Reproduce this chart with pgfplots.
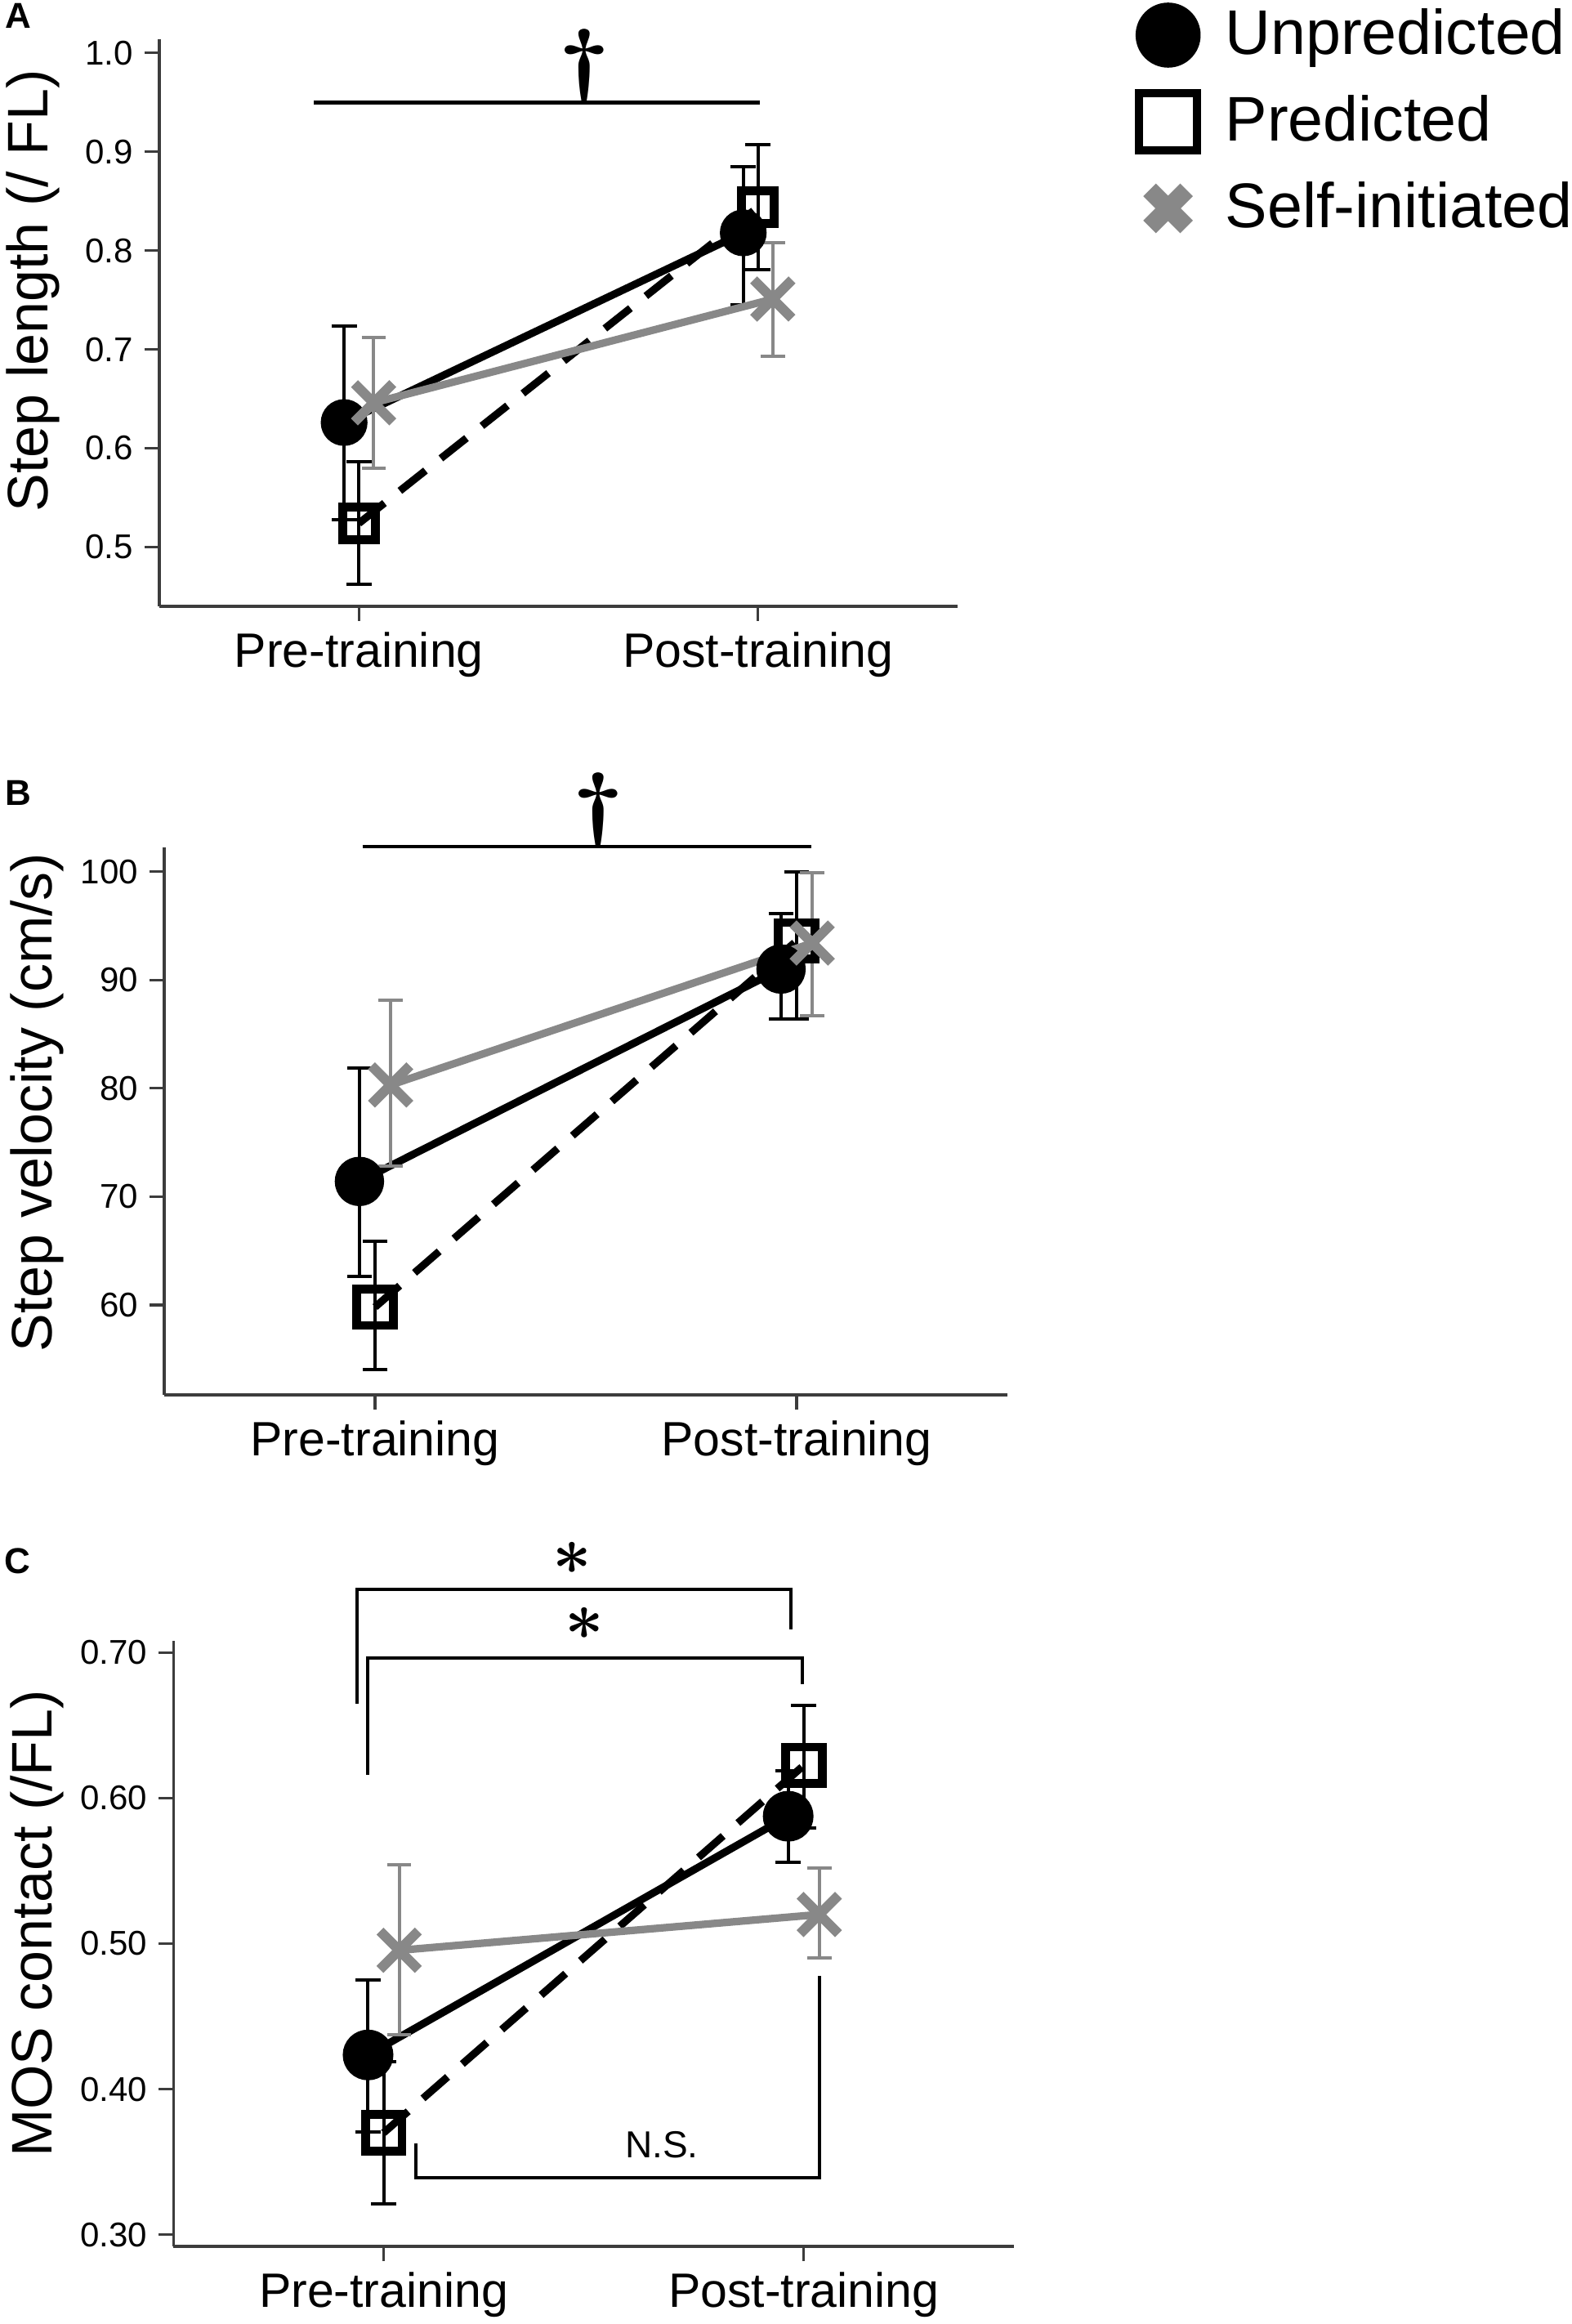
\documentclass[border=0pt]{standalone}
\usepackage{pgfplots}
\pgfplotsset{compat=1.18}
\usepackage{fontspec}
\setmainfont{Liberation Sans}
\definecolor{sgray}{RGB}{136,136,136}
\definecolor{axgray}{RGB}{60,60,60}
\pgfplotsset{
  panel/.style={
    scale only axis,
    axis x line*=bottom, axis y line*=left,
    axis line style={line width=0.8pt, axgray},
    xmin=0.5, xmax=2.5,
    xtick={1,2}, xticklabels={Pre-training,Post-training},
    tick align=outside, major tick length=4.5pt,
    tick style={line width=0.8pt, axgray},
    xticklabel style={font=\fontsize{14.75}{16}\selectfont},
    yticklabel style={font=\fontsize{10.5}{12}\selectfont},
    /pgf/number format/assume math mode=true,
    clip=false,
  },
  unp/.style={black, line width=2.3pt, mark=*, mark size=#1, mark options={solid},
    forget plot,
    error bars/.cd, y dir=both, y explicit,
    error bar style={line width=1pt, black, solid},
    error mark options={rotate=90, line width=1pt, black, mark size=3.85pt, solid}},
  pred/.style={black, line width=2.3pt, dash pattern=on 10pt off 6pt, mark=square, mark size=#1,
    mark options={solid, line width=2.7pt}, forget plot,
    error bars/.cd, y dir=both, y explicit,
    error bar style={line width=1pt, black, solid},
    error mark options={rotate=90, line width=1pt, black, mark size=3.85pt, solid}},
  self/.style={sgray, line width=2.3pt, mark=x, mark size=8.3pt,
    mark options={solid, line width=3pt}, forget plot,
    error bars/.cd, y dir=both, y explicit,
    error bar style={line width=1pt, sgray, solid},
    error mark options={rotate=90, line width=1pt, sgray, mark size=3.7pt, solid}},
}
\newcommand{\sigdag}{\scalebox{1.25}[1]{\fontsize{25}{25}\selectfont\boldmath$\dagger$}}
\newcommand{\sigast}{\scalebox{1}[1]{\fontsize{20}{20}\selectfont\boldmath$\ast$}}
\begin{document}
\begin{tikzpicture}
\useasboundingbox (0,0) rectangle (481pt,711pt);

% ---------- Panel A ----------
\begin{axis}[panel,
  at={(48.75pt,525.5pt)}, anchor=south west,
  width=244.25pt, height=173.5pt,
  ymin=0.44, ymax=1.014,
  ytick={0.5,0.6,0.7,0.8,0.9,1.0},
  yticklabel style={/pgf/number format/.cd, fixed, fixed zerofill, precision=1},
  legend style={at={(1.2228,1.0648)}, anchor=north west, draw=none, fill=none,
    inner sep=0pt, outer sep=0pt, row sep=6.5pt,
    font=\fontsize{19.3}{21}\selectfont,
    nodes={inner sep=0pt, text height=12pt, text depth=0pt},
    /tikz/every odd column/.append style={column sep=7.5pt}},
  legend cell align=left,
  legend image code/.code={\path[draw=none,fill=none] (0pt,-10pt) rectangle (20pt,10pt);
    \draw[#1] plot coordinates {(10pt,0pt)};},
]
\addlegendimage{only marks, mark=*, black, mark size=9.75pt}
\addlegendentry{Unpredicted}
\addlegendimage{only marks, mark=square, black, mark size=8.85pt, line width=2.5pt}
\addlegendentry{Predicted}
\addlegendimage{only marks, mark=x, sgray, mark size=8pt, line width=5.5pt}
\addlegendentry{Self-initiated}

\addplot[unp=6pt] coordinates {(0.963,0.626) += (0,0.098) -= (0,0.098)
  (1.963,0.818) += (0,0.067) -= (0,0.073)};
\addplot[pred=5pt] coordinates {(1,0.524) += (0,0.062) -= (0,0.062)
  (2,0.844) += (0,0.063) -= (0,0.063)};
\addplot[self] coordinates {(1.037,0.646) += (0,0.066) -= (0,0.066)
  (2.037,0.751) += (0,0.057) -= (0,0.058)};

\draw[line width=1.2pt] (axis cs:0.8875,0.95) -- (axis cs:2.005,0.95);
\node[anchor=south, inner sep=0pt] at (axis cs:1.565,0.95) {\sigdag};
\end{axis}

% ---------- Panel B ----------
\begin{axis}[panel,
  at={(50.25pt,284.25pt)}, anchor=south west,
  width=258pt, height=167.4pt,
  ymin=51.7, ymax=102.2,
  ytick={60,70,80,90,100},
]
\addplot[unp=6.4pt] coordinates {(0.963,71.4) += (0,10.5) -= (0,8.8)
  (1.963,91.0) += (0,5.1) -= (0,4.6)};
\addplot[pred=5.6pt] coordinates {(1,59.8) += (0,6.1) -= (0,5.8)
  (2,93.6) += (0,6.4) -= (0,7.2)};
\addplot[self] coordinates {(1.037,80.3) += (0,7.8) -= (0,7.5)
  (2.037,93.4) += (0,6.5) -= (0,6.7)};

\draw[line width=1.2pt] (axis cs:0.970,102.3) -- (axis cs:2.034,102.3);
\node[anchor=south, inner sep=0pt] at (axis cs:1.530,102.3) {\sigdag};
\end{axis}

% ---------- Panel C ----------
\begin{axis}[panel,
  at={(53.1pt,23.75pt)}, anchor=south west,
  width=257.1pt, height=185.25pt,
  ymin=0.292, ymax=0.708,
  ytick={0.3,0.4,0.5,0.6,0.7},
  yticklabel style={/pgf/number format/.cd, fixed, fixed zerofill, precision=2},
]
\addplot[unp=6.6pt] coordinates {(0.963,0.4235) += (0,0.0515) -= (0,0.053)
  (1.963,0.5875) += (0,0.0315) -= (0,0.0315)};
\addplot[pred=5.6pt] coordinates {(1,0.370) += (0,0.049) -= (0,0.049)
  (2,0.6224) += (0,0.0413) -= (0,0.0427)};
\addplot[self] coordinates {(1.037,0.4954) += (0,0.0586) -= (0,0.058)
  (2.037,0.520) += (0,0.032) -= (0,0.030)};

\draw[line width=1pt] (axis cs:0.936,0.6646) -- (axis cs:0.936,0.7433) -- (axis cs:1.969,0.7433) -- (axis cs:1.969,0.7157);
\draw[line width=1pt] (axis cs:0.963,0.6162) -- (axis cs:0.963,0.6961) -- (axis cs:1.996,0.6961) -- (axis cs:1.996,0.678);
\draw[line width=1pt] (axis cs:1.076,0.363) -- (axis cs:1.076,0.339) -- (axis cs:2.037,0.339) -- (axis cs:2.037,0.478);
\node[inner sep=0pt] at (axis cs:1.449,0.765) {\sigast};
\node[inner sep=0pt] at (axis cs:1.478,0.720) {\sigast};
\node[inner sep=0pt, font=\fontsize{11.5}{12}\selectfont] at (axis cs:1.662,0.362) {N.S.};
\end{axis}

% ---------- labels ----------
\node[rotate=90, anchor=base, inner sep=0pt, font=\fontsize{17.5}{18}\selectfont] at (14.5pt,622pt) {Step length (/ FL)};
\node[rotate=90, anchor=base, inner sep=0pt, font=\fontsize{17.5}{18}\selectfont] at (15.75pt,373.75pt) {Step velocity (cm/s)};
\node[rotate=90, anchor=base, inner sep=0pt, font=\fontsize{17.5}{18}\selectfont] at (15.75pt,122.5pt) {MOS contact (/FL)};
\node[anchor=base west, inner sep=0pt, font=\fontsize{11}{12}\selectfont\bfseries] at (1.5pt,702.25pt) {A};
\node[anchor=base west, inner sep=0pt, font=\fontsize{11}{12}\selectfont\bfseries] at (1.5pt,464.5pt) {B};
\node[anchor=base west, inner sep=0pt, font=\fontsize{11}{12}\selectfont\bfseries] at (1.25pt,229.5pt) {C};
\end{tikzpicture}
\end{document}
